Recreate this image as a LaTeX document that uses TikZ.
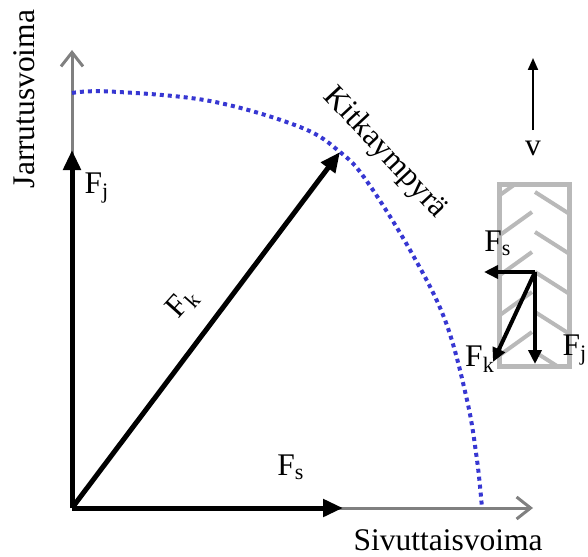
\documentclass[tikz,border=0pt]{standalone}
\usepackage{fontspec}
\setmainfont{Liberation Serif}
\usetikzlibrary{arrows.meta}
\definecolor{circleblue}{RGB}{55,55,210}

\begin{document}
\begin{tikzpicture}[x=0.5pt,y=-0.5pt,
    axis/.style={draw=gray, line width=1.5pt, -{Straight Barb[length=7pt,width=11pt]}},
    force/.style={draw=black, line width=2.5pt, -{Triangle[length=10pt,width=8.5pt]}},
    smallforce/.style={draw=black, line width=2pt, -{Triangle[length=7pt,width=6.5pt]}},
    tread/.style={draw=gray!55, line width=2pt},
    lbl/.style={font=\fontsize{15.75}{18}\selectfont, inner sep=0pt}]
                \useasboundingbox (0,0) rectangle (588,556);

                % Points of the diagram
                \coordinate (O) at (72,508);
                \coordinate (ytop) at (72,50);
                \coordinate (xend) at (533,508);
                \coordinate (Fjtip) at (72,150);
                \coordinate (Fstip) at (343,508);
                \coordinate (Fktip) at (340,152);

                % Draw the axes
                \draw[axis] (O) -- (ytop);
                \draw[axis] (O) -- (xend);
                \node[lbl, rotate=90] (ylabel) at (24,99) {Jarrutusvoima};
                \node[lbl] (xlabel) at (448,540) {Sivuttaisvoima};

                % Friction circle
                \draw[circleblue, line width=2pt, dash pattern=on 2pt off 2pt]
                    plot[smooth, tension=0.6] coordinates {(72,93) (110,91.5) (210,101) (300,127) (340,152)
                    (366,180) (410,250) (445,320) (467,400) (477,460) (482,508)};
                \node[lbl, rotate=-47] (circlelabel) at (385,153) {Kitkaympyrä};

                % Force arrows
                \draw[force] (O) -- (Fjtip);
                \draw[force] (O) -- (Fstip);
                \draw[force] (O) -- (Fktip);
                \node[lbl] (Fjlabel) at (97,188) {F\textsubscript{j}};
                \node[lbl] (Fslabel) at (291,467) {F\textsubscript{s}};
                \node[lbl, rotate=48] (Fklabel) at (183,303) {F\textsubscript{k}};

                % Tyre seen from above
                \coordinate (tireA) at (499.5,184.5);
                \coordinate (tireB) at (569.5,366.5);
                \begin{scope}
                    \clip (tireA) rectangle (tireB);
                    \foreach \y in {172,212,252,292,332}
                        \draw[tread] (500,\y+23) -- (532,\y);
                    \foreach \y in {192,232,272,312,352}
                        \draw[tread] (535,\y) -- (568,\y+21);
                \end{scope}
                \draw[gray!55, line width=2.5pt] (tireA) rectangle (tireB);

                % Forces on the tyre
                \coordinate (T) at (535,272);
                \coordinate (tFs) at (484,272);
                \coordinate (tFj) at (535,364);
                \coordinate (tFk) at (493,362);
                \draw[smallforce] (T) -- (tFs);
                \draw[smallforce] (T) -- (tFj);
                \draw[smallforce] (T) -- (tFk);
                \node[lbl] (tFslabel) at (498,243) {F\textsubscript{s}};
                \node[lbl] (tFklabel) at (480,359) {F\textsubscript{k}};
                \node[lbl] (tFjlabel) at (575,350) {F\textsubscript{j}};

                % Speed
                \coordinate (vlow) at (533,130);
                \coordinate (vhigh) at (533,58);
                \draw[black, line width=1pt, -{Triangle[length=6pt,width=5pt]}] (vlow) -- (vhigh);
                \node[lbl] (vlabel) at (533,148) {v};
            \end{tikzpicture}
\end{document}
